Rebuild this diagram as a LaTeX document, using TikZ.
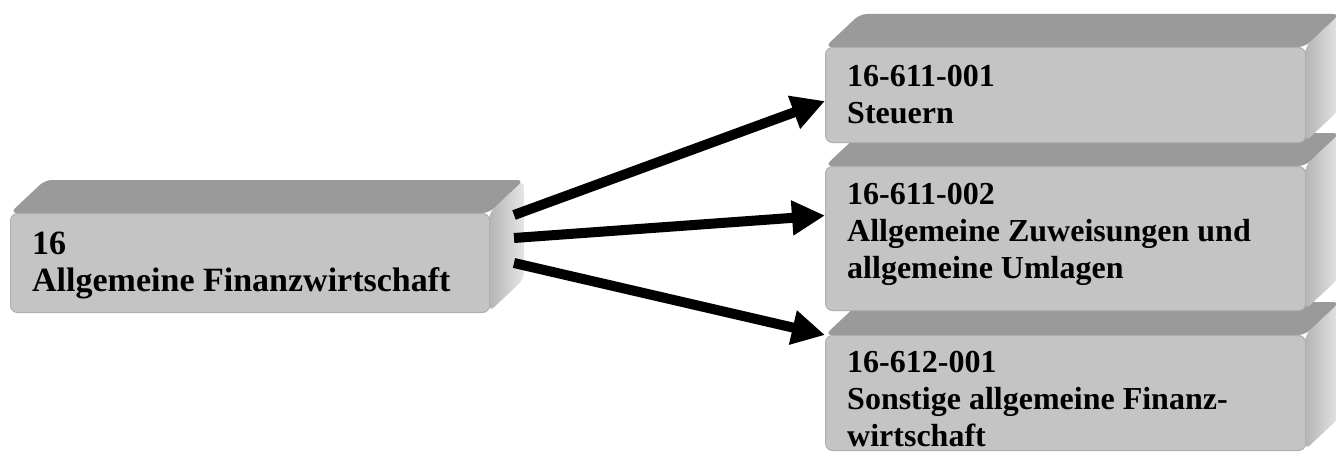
\documentclass[tikz,border=0pt]{standalone}
\usepackage{fontspec}
\setmainfont{Liberation Serif}
\usetikzlibrary{calc,arrows.meta}

\definecolor{vorngrau}{HTML}{C4C4C4}
\definecolor{obengrau}{HTML}{9A9A9A}
\definecolor{seitehell}{HTML}{E6E6E6}
\definecolor{seitedunkel}{HTML}{B4B4B4}

\tikzset{
  vorn/.style={fill=vorngrau, draw=vorngrau!90!black, line width=1pt, rounded corners=7pt, anchor=north west, inner sep=0pt},
  oben/.style={fill=obengrau, rounded corners=7pt},
  seite/.style={left color=seitedunkel, right color=seitehell, rounded corners=7pt},
  beschr/.style={anchor=north west, align=left, inner sep=0pt, font=\bfseries\fontsize{32}{37}\selectfont},
  pfeil/.style={line width=10pt, -{Triangle[length=33pt,width=33pt]}},
}

% Kasten: Name, x, y (vorne oben links), Breite, Hoehe
\newcommand{\kasten}[5]{%
  \fill[oben] (#2,#3) -- ++(35,-33) -- ++(#4,0) -- ++(-35,33) -- cycle;
  \shade[seite] (#2+#4,#3) -- ++(35,-33) -- ++(0,#5) -- ++(-35,33) -- cycle;
  \node[vorn, minimum width=#4pt, minimum height=#5pt] (#1) at (#2,#3) {};
}

\begin{document}
\begin{tikzpicture}[x=1pt,y=-1pt]
  \useasboundingbox (0,0) rectangle (1336,452);

  \kasten{fin}{10}{213}{479}{99}
  \node[beschr, font=\bfseries\fontsize{34}{37}\selectfont] (fin-t) at ([shift={(22,19)}]fin.north west) {16\\Allgemeine Finanzwirtschaft};

  \kasten{sonst}{825}{335}{480}{115}
  \node[beschr] (sonst-t) at ([shift={(22,16)}]sonst.north west) {16-612-001\\Sonstige allgemeine Finanz-\\wirtschaft};

  \kasten{zuweis}{825}{166}{480}{144}
  \node[beschr] (zuweis-t) at ([shift={(22,17)}]zuweis.north west) {16-611-002\\Allgemeine Zuweisungen und\\allgemeine Umlagen};

  \kasten{steuer}{825}{47}{480}{95}
  \node[beschr] (steuer-t) at ([shift={(22,18)}]steuer.north west) {16-611-001\\Steuern};

  \draw[pfeil] ($(fin.north east)+(24,2)$) -- ($(steuer.west)+(0,6)$);
  \draw[pfeil] ($(fin.north east)+(24,25)$) -- ($(zuweis.west)+(0,-23)$);
  \draw[pfeil] ($(fin.north east)+(24,50)$) -- (sonst.north west);
\end{tikzpicture}
\end{document}
